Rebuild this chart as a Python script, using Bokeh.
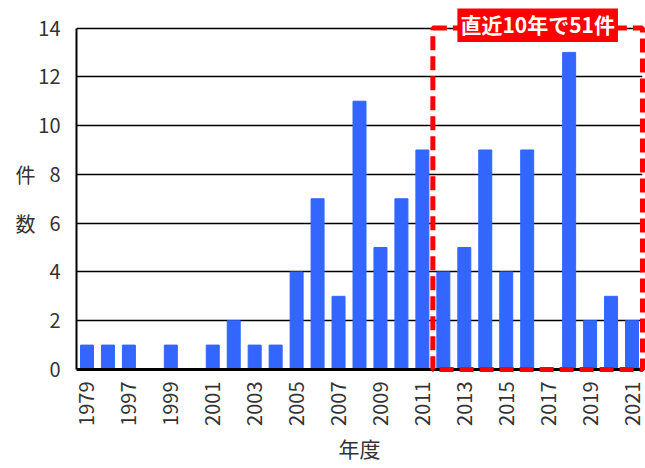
import math
from bokeh.plotting import figure
from bokeh.models import ColumnDataSource, Label, FixedTicker, LinearAxis
from bokeh.embed import file_html
from bokeh.resources import INLINE

years = ["1979", "1996", "1997", "1998", "1999", "2000", "2001", "2002", "2003",
         "2004", "2005", "2006", "2007", "2008", "2009", "2010", "2011", "2012",
         "2013", "2014", "2015", "2016", "2017", "2018", "2019", "2020", "2021"]
counts = [1, 1, 1, 0, 1, 0, 1, 2, 1, 1, 4, 7, 3, 11, 5, 7, 9, 4, 5, 9, 4, 9, 0, 13, 2, 3, 2]
y_ticks = [0, 2, 4, 6, 8, 10, 12, 14]
y_title_chars = {8: "件", 6: "数"}
highlight_start = "2012"
highlight_text = "直近10年で51件"

FONT = "Noto Sans CJK JP"
TXT = "#333333"
n = len(years)
xpos = [i + 0.5 for i in range(n)]
ymax = y_ticks[-1]

p = figure(width=645, height=468, x_range=(0, n), y_range=(0, 14.8),
           output_backend="svg", toolbar_location=None,
           min_border_left=76, min_border_right=3, min_border_top=8, min_border_bottom=99)
p.outline_line_color = None

src = ColumnDataSource(dict(x=xpos, y=counts))
p.vbar(x="x", top="y", width=0.62, source=src, color="#3366ff")

# axes
p.yaxis.ticker = y_ticks
p.yaxis.bounds = (0, ymax)
p.yaxis.axis_line_color = "black"
p.yaxis.axis_line_width = 2
p.yaxis.major_tick_line_color = None
p.yaxis.minor_tick_line_color = None
p.yaxis.major_tick_out = 0
p.yaxis.major_label_text_font = FONT
p.yaxis.major_label_text_font_size = "20px"
p.yaxis.major_label_text_color = TXT
p.yaxis.major_label_standoff = 16

# y title as stacked characters (extra left axis)
ty = LinearAxis(ticker=FixedTicker(ticks=list(y_title_chars)),
                major_label_overrides=y_title_chars, bounds=(0, ymax))
ty.axis_line_color = None
ty.major_tick_line_color = None
ty.minor_tick_line_color = None
ty.major_tick_out = 0
ty.major_tick_in = 0
ty.major_label_text_font = FONT
ty.major_label_text_font_size = "20px"
ty.major_label_text_color = TXT
ty.major_label_standoff = 0
p.add_layout(ty, "left")

shown = list(range(0, n, 2))
p.xaxis.ticker = FixedTicker(ticks=[xpos[i] for i in shown])
p.xaxis.major_label_overrides = {xpos[i]: years[i] for i in shown}
p.xaxis.axis_line_color = "black"
p.xaxis.axis_line_width = 3
p.xaxis.major_tick_line_color = None
p.xaxis.minor_tick_line_color = None
p.xaxis.major_tick_out = 0
p.xaxis.major_label_orientation = math.pi / 2
p.xaxis.major_label_text_font = FONT
p.xaxis.major_label_text_font_size = "20px"
p.xaxis.major_label_text_color = TXT
p.xaxis.major_label_standoff = 12
p.xaxis.axis_label = "年度"
p.xaxis.axis_label_text_font = FONT
p.xaxis.axis_label_text_font_size = "21px"
p.xaxis.axis_label_text_font_style = "normal"
p.xaxis.axis_label_text_color = TXT
p.xaxis.axis_label_text_line_height = 0.7
p.xaxis.axis_label_standoff = 4

p.xgrid.grid_line_color = None
p.ygrid.grid_line_color = "black"
p.ygrid.grid_line_width = 1.5

# highlight box for the last 10 years
i0 = years.index(highlight_start)
box = p.quad(left=[i0], right=[n], bottom=[0], top=[ymax], fill_color=None,
             line_color="red", line_width=5, line_dash="14 6")
box.level = "overlay"

p.add_layout(Label(x=(i0 + n) / 2, y=ymax, x_units="data", y_units="data",
                   text=highlight_text, text_font=FONT, text_font_size="21px",
                   text_font_style="bold", text_color="white",
                   text_align="center", text_baseline="middle", y_offset=4,
                   background_fill_color="red", padding=3, level="overlay"))

open("out.html", "w").write(file_html(p, INLINE))
